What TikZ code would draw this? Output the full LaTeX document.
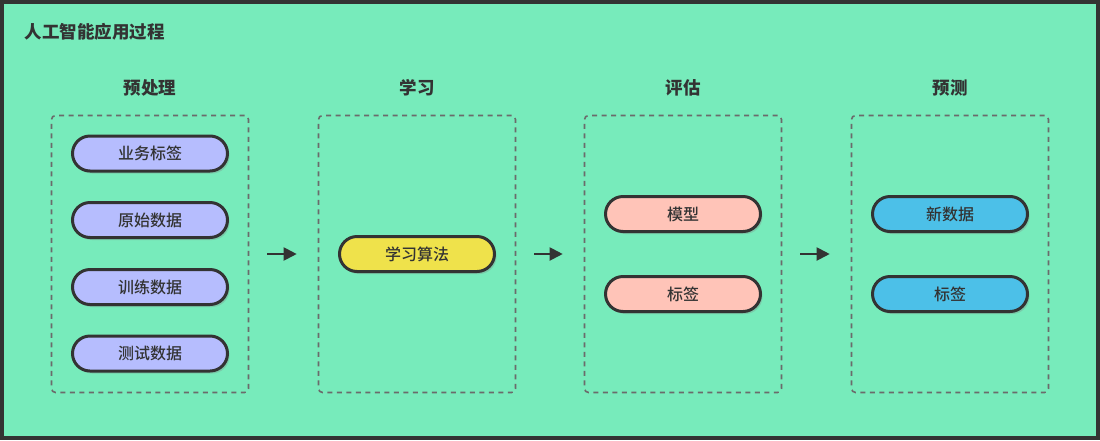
\documentclass[tikz,border=0pt]{standalone}
\usepackage{fontspec}
\newfontfamily\cjk{Noto Sans CJK SC}
\newfontfamily\cjkmed{Noto Sans CJK SC Medium}
\usetikzlibrary{shadows,arrows.meta}
\definecolor{bggreen}{HTML}{77EBBB}
\definecolor{inkdark}{HTML}{333333}
\definecolor{boxgray}{HTML}{6B6B6B}
\definecolor{lavender}{HTML}{B6BDFE}
\definecolor{lemon}{HTML}{EFE24B}
\definecolor{salmon}{HTML}{FFC4B8}
\definecolor{skyblue}{HTML}{4CC0E8}
\begin{document}
\begin{tikzpicture}[
        x=1pt, y=-1pt,
        font=\cjk, text=inkdark,
        stage/.style={
            rectangle,
            draw=boxgray,
            line width=1.6pt,
            dash pattern=on 5pt off 4.5pt,
            rounded corners=4pt,
            minimum width=197pt,
            minimum height=277pt
        },
        stagetitle/.style={
            font=\cjk\fontsize{17.5}{20}\selectfont\bfseries
        },
        pill/.style={
            rectangle,
            draw=inkdark,
            line width=3pt,
            rounded corners=17.5pt,
            minimum width=155pt,
            minimum height=35pt,
            font=\cjkmed\fontsize{16}{19}\selectfont,
            drop shadow={shadow xshift=2pt, shadow yshift=-2.5pt, opacity=0.3}
        },
        arrow/.style={
            -{Triangle[length=13pt,width=13pt]},
            line width=2pt,
            draw=inkdark,
            shorten >=21pt,
            shorten <=18pt
        }
    ]

        \useasboundingbox (0,0) rectangle (1100,440);
        \draw[line width=4pt, draw=inkdark, fill=bggreen] (2,2) rectangle (1098,438);

        \node[anchor=west, font=\cjk\fontsize{17.5}{20}\selectfont\bfseries] (title) at (21,32) {人工智能应用过程};

        \node[stage] (pre) at (150,254) {};
        \node[stage] (learn) at (417,254) {};
        \node[stage] (eval) at (683,254) {};
        \node[stage] (pred) at (950,254) {};

        \node[stagetitle] (pretitle) at (150,88) {预处理};
        \node[stagetitle] (learntitle) at (417,88) {学习};
        \node[stagetitle] (evaltitle) at (683,88) {评估};
        \node[stagetitle] (predtitle) at (950,88) {预测};

        \node[pill, fill=lavender] (biz) at (150,153.5) {业务标签};
        \node[pill, fill=lavender] (raw) at (150,220) {原始数据};
        \node[pill, fill=lavender] (train) at (150,287) {训练数据};
        \node[pill, fill=lavender] (test) at (150,353.5) {测试数据};

        \node[pill, fill=lemon] (algo) at (417,254) {学习算法};

        \node[pill, fill=salmon] (model) at (683,214) {模型};
        \node[pill, fill=salmon] (evallabel) at (683,294) {标签};

        \node[pill, fill=skyblue] (newdata) at (950,214) {新数据};
        \node[pill, fill=skyblue] (predlabel) at (950,294) {标签};

        \draw[arrow] (pre.east) -- (learn.west);
        \draw[arrow] (learn.east) -- (eval.west);
        \draw[arrow] (eval.east) -- (pred.west);

    \end{tikzpicture}
\end{document}
